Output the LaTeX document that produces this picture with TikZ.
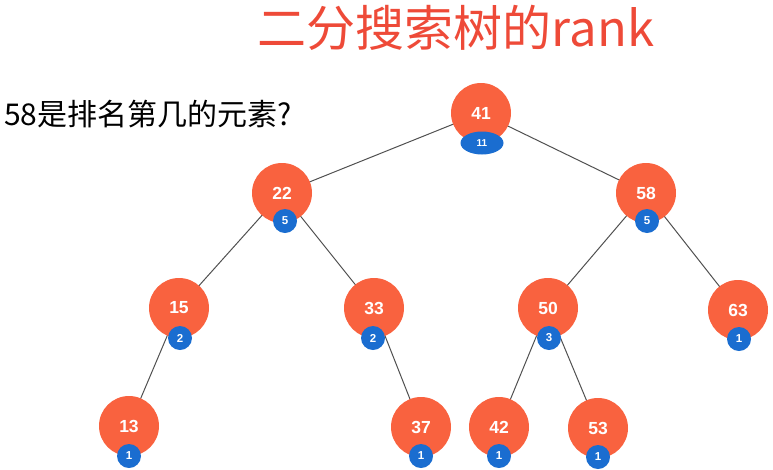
\documentclass[tikz,border=0pt]{standalone}
\usepackage{fontspec}
\setmainfont{Liberation Sans}
\newfontfamily\cjk{Noto Sans CJK SC}
\usetikzlibrary{backgrounds,shapes.geometric}
\definecolor{nodeorange}{HTML}{F9623F}
\definecolor{badgeblue}{HTML}{1A6DD0}
\definecolor{titlered}{HTML}{EE4A38}
\definecolor{edgegray}{HTML}{505050}
\tikzset{
  keynode/.style={circle, fill=nodeorange, minimum size=60pt, inner sep=0pt,
    text=white, font=\fontsize{17.5}{17.5}\selectfont\bfseries},
  badge/.style={circle, fill=badgeblue, minimum size=24pt, inner sep=0pt,
    text=white, font=\fontsize{11.5}{11.5}\selectfont\bfseries},
  rootbadge/.style={ellipse, fill=badgeblue, minimum width=43pt, minimum height=23pt, inner sep=0pt,
    text=white, font=\fontsize{10}{10}\selectfont\bfseries},
  edge/.style={draw=edgegray, line width=1pt}
}
\begin{document}
\begin{tikzpicture}[x=1pt,y=-1pt]
\useasboundingbox (0,0) rectangle (773,469);
\node[text=titlered, font=\cjk\fontsize{49}{49}\selectfont] (title) at (456,28) {二分搜索树的rank};
\node[anchor=west, font=\cjk\fontsize{30}{30}\selectfont, inner sep=0pt] (question) at (4,114) {58是排名第几的元素?};
% key nodes
\node[keynode] (n41) at (481,113) {41};
\node[keynode] (n22) at (282,193) {22};
\node[keynode] (n58) at (646,193) {58};
\node[keynode] (n15) at (179,308) {15};
\node[keynode] (n33) at (374,308) {33};
\node[keynode] (n50) at (548,308) {50};
\node[keynode] (n63) at (738,310) {63};
\node[keynode] (n13) at (129,426) {13};
\node[keynode] (n37) at (421,427) {37};
\node[keynode] (n42) at (499,427) {42};
\node[keynode] (n53) at (598,428) {53};
% badges
\node[rootbadge] (b41) at (482,143) {11};
\node[badge] (b22) at (285,221) {5};
\node[badge] (b58) at (647,221) {5};
\node[badge] (b15) at (180,338) {2};
\node[badge] (b33) at (373,338) {2};
\node[badge] (b50) at (549,338) {3};
\node[badge] (b63) at (739,339) {1};
\node[badge] (b13) at (129,456) {1};
\node[badge] (b37) at (421,456) {1};
\node[badge] (b42) at (499,456) {1};
\node[badge] (b53) at (598,457) {1};
\begin{scope}[on background layer]
\draw[edge] (n41.center) -- (n22.center);
\draw[edge] (n41.center) -- (n58.center);
\draw[edge] (n22.center) -- (n15.center);
\draw[edge] (n22.center) -- (n33.center);
\draw[edge] (n58.center) -- (n50.center);
\draw[edge] (n58.center) -- (n63.center);
\draw[edge] (n15.center) -- (n13.center);
\draw[edge] (n33.center) -- (n37.center);
\draw[edge] (n50.center) -- (n42.center);
\draw[edge] (n50.center) -- (n53.center);
\end{scope}
\end{tikzpicture}
\end{document}
